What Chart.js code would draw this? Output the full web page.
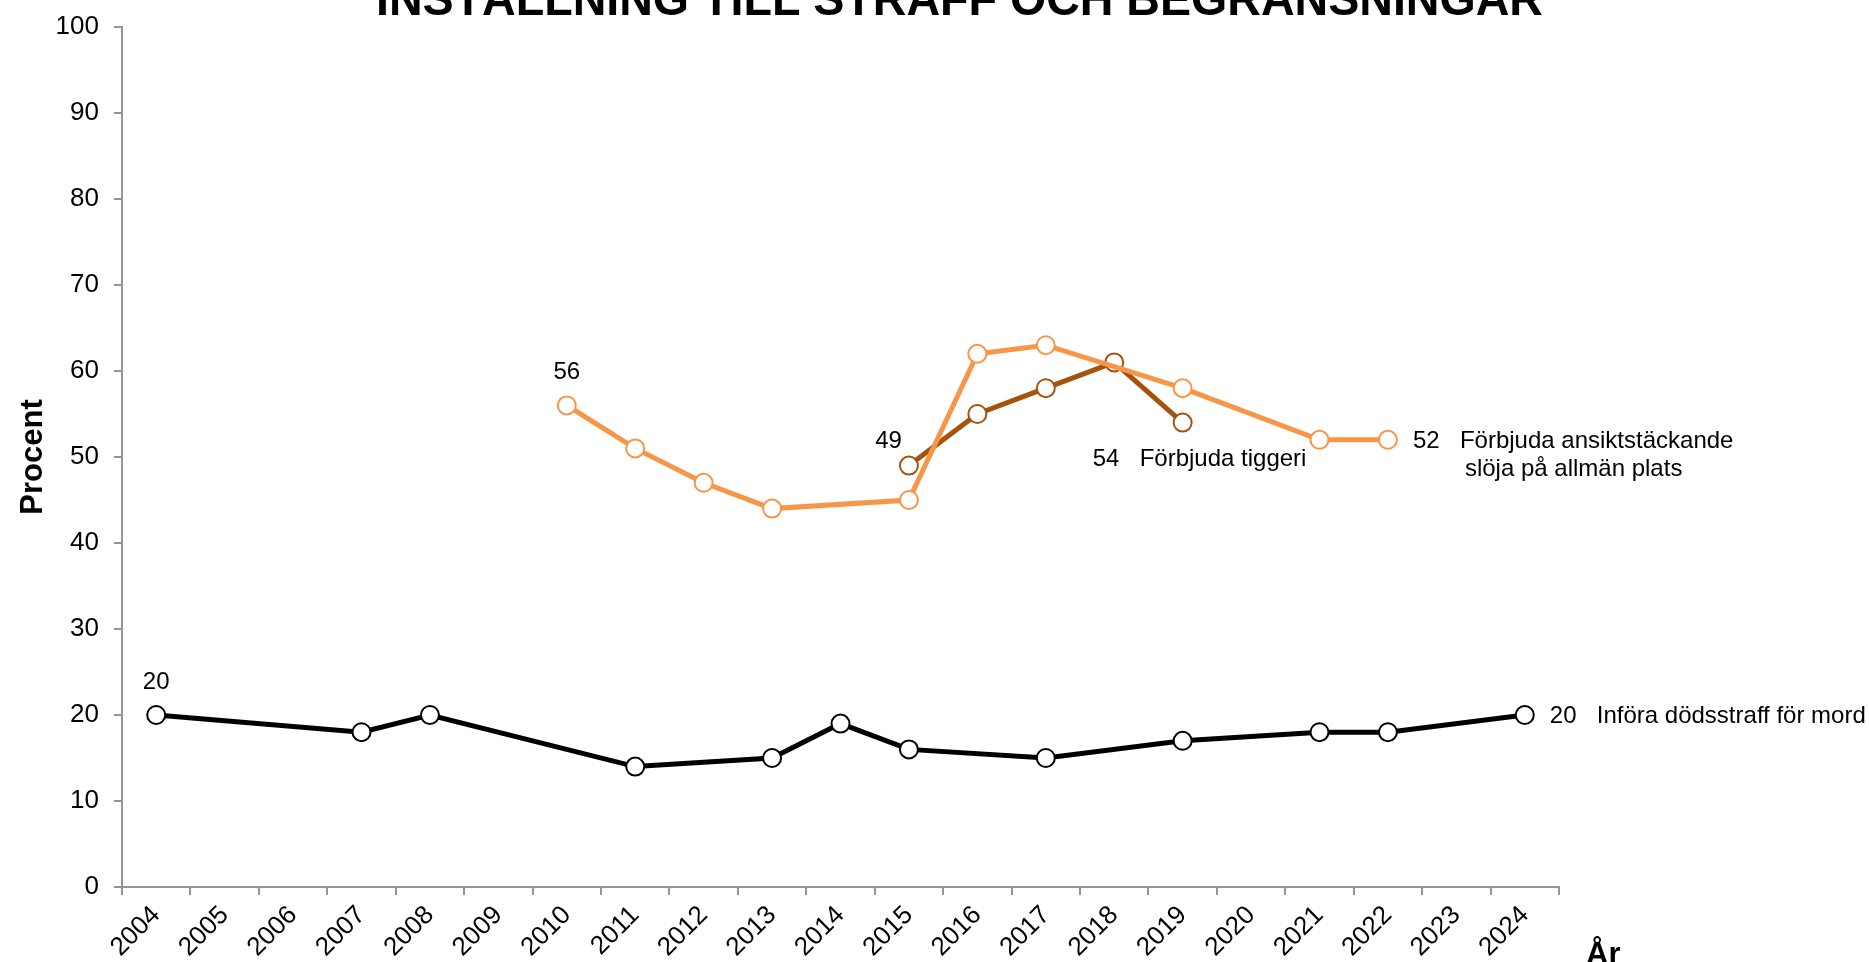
<!DOCTYPE html>
<html lang="sv">
<head>
<meta charset="utf-8">
<title>Inställning till straff och begränsningar</title>
<script src="https://cdn.jsdelivr.net/npm/chart.js@4/dist/chart.umd.min.js"></script>
<style>
  html, body { margin: 0; padding: 0; background: #fff; }
  canvas { display: block; }
</style>
</head>
<body>
<canvas id="chart" width="1869" height="962"></canvas>
<script>
// Survey years on the category axis
const years = ['2004', '2005', '2006', '2007', '2008', '2009', '2010', '2011', '2012', '2013', '2014',
               '2015', '2016', '2017', '2018', '2019', '2020', '2021', '2022', '2023', '2024'];

// Share (percent) in favour of each proposal; null = not asked that year
const dodsstraff = [20, null, null, 18, 20, null, null, 14, null, 15, 19, 16, null, 15, null, 17, null, 18, 18, null, 20];
const sloja      = [null, null, null, null, null, null, 56, 51, 47, 44, null, 45, 62, 63, null, 58, null, 52, 52, null, null];
const tiggeri    = [null, null, null, null, null, null, null, null, null, null, null, 49, 55, 58, 61, 54, null, null, null, null, null];

// Series names written beside the last point of each line
const nameDodsstraff = ['Införa dödsstraff för mord'];
const nameSloja      = ['Förbjuda ansiktstäckande', 'slöja på allmän plats'];
const nameTiggeri    = ['Förbjuda tiggeri'];

const yTicks = [0, 10, 20, 30, 40, 50, 60, 70, 80, 90, 100];

const titleText = 'INSTÄLLNING TILL STRAFF OCH BEGRÄNSNINGAR';
const yTitle = 'Procent';
const xTitle = 'År';

const FONT = "'Liberation Sans', Arial, Helvetica, sans-serif";
const AXIS = '#959595';
const LIGHT = '#F79646';
const DARK = '#A5520E';

Chart.defaults.font.family = FONT;
Chart.defaults.color = '#000';

const firstIdx = arr => arr.findIndex(v => v !== null);
const lastIdx = arr => { for (let i = arr.length - 1; i >= 0; i--) if (arr[i] !== null) return i; return -1; };

// Value labels and series names drawn next to the line ends
const seriesText = {
  id: 'seriesText',
  afterDatasetsDraw(chart) {
    const c = chart.ctx;
    const pt = (di, i) => chart.getDatasetMeta(di).data[i];
    c.save();
    c.fillStyle = '#000';
    c.font = `24px ${FONT}`;
    c.textBaseline = 'alphabetic';

    // first values
    let i = firstIdx(dodsstraff), p = pt(0, i);
    c.textAlign = 'center';
    c.fillText(String(dodsstraff[i]), p.x, p.y - 26);
    i = firstIdx(sloja); p = pt(1, i);
    c.fillText(String(sloja[i]), p.x, p.y - 26);
    i = firstIdx(tiggeri); p = pt(2, i);
    c.textAlign = 'right';
    c.fillText(String(tiggeri[i]), p.x - 7, p.y - 18);

    // last values with names
    c.textAlign = 'left';
    i = lastIdx(dodsstraff); p = pt(0, i);
    c.fillText(String(dodsstraff[i]), p.x + 25, p.y + 8);
    c.fillText(nameDodsstraff[0], p.x + 72, p.y + 8);

    i = lastIdx(sloja); p = pt(1, i);
    c.fillText(String(sloja[i]), p.x + 25, p.y + 8);
    c.fillText(nameSloja[0], p.x + 72, p.y + 8);
    c.fillText(nameSloja[1], p.x + 77, p.y + 36);

    i = lastIdx(tiggeri); p = pt(2, i);
    c.fillText(String(tiggeri[i]), p.x - 90, p.y + 43);
    c.fillText(nameTiggeri[0], p.x - 43, p.y + 43);
    c.restore();
  },
  afterDraw(chart) {
    const c = chart.ctx;
    const area = chart.chartArea;
    c.save();
    c.fillStyle = '#000';

    // chart title, partly above the top edge
    c.font = `bold 48px ${FONT}`;
    c.textAlign = 'left';
    c.textBaseline = 'alphabetic';
    const w = c.measureText(titleText).width;
    c.save();
    c.translate(376, 15);
    c.scale(1167 / w, 1);
    c.fillText(titleText, 0, 0);
    c.restore();

    // y axis title
    c.font = `bold 31px ${FONT}`;
    c.save();
    c.translate(42, (area.top + area.bottom) / 2);
    c.rotate(-Math.PI / 2);
    c.textAlign = 'center';
    c.fillText(yTitle, 0, 0);
    c.restore();

    // x axis title
    c.font = `bold 31px ${FONT}`;
    c.textAlign = 'left';
    c.fillText(xTitle, area.right + 27, 964);
    c.restore();
  }
};

const lineSet = (label, data, color) => ({
  label,
  data,
  borderColor: color,
  backgroundColor: color,
  borderWidth: 5,
  pointRadius: 9,
  pointHoverRadius: 9,
  pointBorderWidth: 2,
  pointBorderColor: color,
  pointBackgroundColor: '#fff',
  spanGaps: true,
  tension: 0,
  clip: false
});

new Chart(document.getElementById('chart'), {
  type: 'line',
  data: {
    labels: years,
    datasets: [
      lineSet(nameDodsstraff.join(' '), dodsstraff, '#000'),
      lineSet(nameSloja.join(' '), sloja, LIGHT),
      lineSet(nameTiggeri.join(' '), tiggeri, DARK)
    ]
  },
  options: {
    responsive: false,
    animation: false,
    events: [],
    layout: { padding: { top: 27, right: 310, bottom: 0, left: 0 } },
    plugins: { legend: { display: false }, tooltip: { enabled: false }, title: { display: false } },
    scales: {
      x: {
        type: 'category',
        offset: true,
        grid: { offset: true, drawOnChartArea: false, drawTicks: true, tickLength: 8, color: AXIS, lineWidth: 2 },
        border: { color: AXIS, width: 2 },
        ticks: { autoSkip: false, minRotation: 45, maxRotation: 45, padding: 5, font: { size: 26 }, color: '#000' },
        afterFit: s => { s.height = 75; s.paddingLeft = 0; s.paddingRight = 0; }
      },
      y: {
        min: 0,
        max: 100,
        afterBuildTicks: s => { s.ticks = yTicks.map(v => ({ value: v })); },
        grid: { drawOnChartArea: false, drawTicks: true, tickLength: 8, color: AXIS, lineWidth: 2 },
        border: { color: AXIS, width: 2 },
        ticks: { padding: 15, font: { size: 26 }, color: '#000' },
        afterFit: s => { s.width = 122; s.paddingTop = 0; s.paddingBottom = 0; }
      }
    }
  },
  plugins: [seriesText]
});
</script>
</body>
</html>
